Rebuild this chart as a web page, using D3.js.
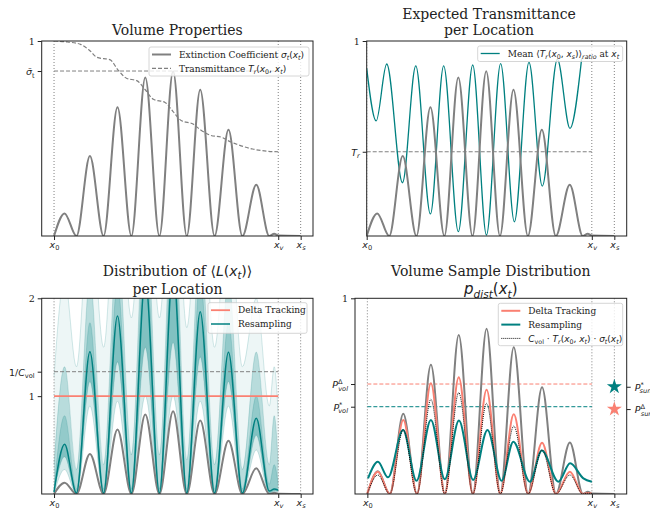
<!DOCTYPE html>
<html>
<head>
<meta charset="utf-8">
<script src="https://cdn.jsdelivr.net/npm/d3@7"></script>
<style>
  body { margin: 0; background: #fff; }
  svg text { font-family: "DejaVu Serif", serif; fill: #222; }
</style>
</head>
<body>
<svg id="fig" width="650" height="509"></svg>
<script>
const teal = '#008080', salmon = '#fa8072', grey = '#808080', ink = '#222';

// ray positions: x0 = 0, xv = 1, xs = 1.1
const xTickVals = [0, 1, 1.1];
const xTickLabels = [
    [['x', 'mi'], ['0', 'm_']],
    [['x', 'mi'], ['v', 'mi_']],
    [['x', 'mi'], ['s', 'mi_']]
];

// knots: troughs and peaks of the extinction coefficient
const knotX = [0, 0.047, 0.10, 0.16, 0.221, 0.283, 0.345, 0.407, 0.47, 0.531, 0.592, 0.652, 0.716, 0.778, 0.84, 0.902, 0.96, 0.982, 1.0];
const sigmaX = [...knotX, 1.1];
const sigma = [0, 0.116, 0, 0.41, 0, 0.66, 0, 0.813, 0, 0.845, 0, 0.75, 0, 0.545, 0, 0.263, 0, 0.012, 0.002, 0];

// transmittance T_r(x0, xt)
const transX = [0, 0.06, 0.118, 0.16, 0.192, 0.251, 0.283, 0.325, 0.369, 0.407, 0.443, 0.495, 0.531, 0.569, 0.62, 0.652, 0.694, 0.753, 0.778, 0.812, 0.886, 0.95, 1.0];
const trans = [1.0, 0.995, 0.983, 0.95, 0.916, 0.903, 0.855, 0.808, 0.797, 0.75, 0.701, 0.685, 0.638, 0.591, 0.574, 0.545, 0.518, 0.504, 0.488, 0.472, 0.446, 0.435, 0.432];

const sigmaBar = 0.846;
const trFinal = 0.432;
const invCvol = 1.25;

// mean transmittance ratio (top right)
const ratioX = [0, 0.042, 0.089, 0.159, 0.218, 0.283, 0.342, 0.407, 0.471, 0.532, 0.595, 0.656, 0.721, 0.78, 0.847, 0.903, 0.955];
const ratio = [0.86, 0.59, 0.882, 0.273, 0.872, 0.113, 0.872, 0.022, 0.877, 0.005, 0.884, 0.073, 0.89, 0.256, 0.906, 0.552, 0.911];

// distribution of <L(xt)> for resampling (bottom left), on knotX
const medianL = [0.02, 0.508, 0.01, 1.454, 0.01, 1.82, 0.01, 2.2, 0.01, 2.3, 0.01, 1.863, 0.01, 1.448, 0.01, 0.774, 0.03, 0.05, 0.04];
const lo2 = [0.0, 0.25, 0.0, 0.9, 0.0, 0.95, 0.0, 1.0, 0.0, 1.0, 0.0, 0.95, 0.0, 0.9, 0.0, 0.45, 0.0, 0.02, 0.02];
const lo1 = [0.01, 0.38, 0.0, 1.15, 0.0, 1.35, 0.0, 1.5, 0.0, 1.55, 0.0, 1.4, 0.0, 1.15, 0.0, 0.6, 0.01, 0.03, 0.03];
const hi1 = [0.05, 0.8, 0.05, 1.75, 0.05, 2.15, 0.05, 2.6, 0.05, 2.7, 0.05, 2.2, 0.05, 1.75, 0.05, 1.0, 0.1, 0.3, 0.1];
const hi2 = [0.3, 1.3, 0.25, 2.2, 0.3, 2.6, 0.4, 3.0, 0.4, 3.1, 0.35, 2.6, 0.3, 2.2, 0.25, 1.45, 0.3, 0.8, 0.3];
const hi3 = [1.2, 2.2, 1.3, 3.0, 1.5, 3.4, 1.8, 3.8, 1.8, 3.9, 1.7, 3.4, 1.5, 3.0, 1.3, 2.0, 0.9, 1.3, 0.8];

// volume sample pdfs (bottom right)
const pdfDelta = [0.003, 0.114, 0, 0.378, 0, 0.566, 0, 0.596, 0, 0.533, 0, 0.407, 0, 0.262, 0, 0.114, 0, 0.005, 0.002];
const pdfAnalytic = [0.003, 0.097, 0, 0.33, 0, 0.484, 0, 0.518, 0, 0.463, 0, 0.347, 0, 0.225, 0, 0.097, 0, 0.004, 0.002];
const resX = [0.003, 0.047, 0.092, 0.159, 0.219, 0.283, 0.345, 0.408, 0.471, 0.535, 0.598, 0.65, 0.724, 0.777, 0.851, 0.903, 0.962, 1.0];
const pdfRes = [0.08, 0.165, 0.085, 0.327, 0.068, 0.378, 0.075, 0.375, 0.072, 0.327, 0.068, 0.267, 0.063, 0.222, 0.063, 0.157, 0.08, 0.063];

const pVolDelta = 0.562, pVolRes = 0.446;
const pSunRes = 0.548, pSunDelta = 0.434;

const fig = d3.select('#fig');
let clipCount = 0;

// text with math-like sub/superscripts: kinds r = serif, m = sans, i = italic, _ sub, ^ sup, < back up
function rich(sel, parts, fs) {
    let off = 0;
    parts.forEach(([s, k]) => {
        const sub = k.includes('_'), sup = k.includes('^');
        const target = sub ? fs * 0.28 : sup ? -fs * 0.42 : 0;
        const ts = sel.append('tspan').text(s)
            .attr('dy', (target - off).toFixed(2))
            .attr('font-size', (sub || sup) ? fs * 0.7 : fs)
            .attr('font-family', k.includes('m') ? 'DejaVu Sans' : 'DejaVu Serif')
            .attr('font-style', k.includes('i') ? 'italic' : 'normal');
        if (k.includes('<')) ts.attr('dx', -fs * 0.45);
        off = target;
    });
}

function panel(o) {
    const p = Object.assign({}, o);
    p.g = fig.append('g');
    p.x = d3.scaleLinear().domain(o.xd).range([o.l, o.r]);
    p.y = d3.scaleLinear().domain(o.yd).range([o.b, o.t]);
    const id = 'clip' + (clipCount++);
    fig.append('clipPath').attr('id', id).append('rect')
        .attr('x', o.l).attr('y', o.t).attr('width', o.r - o.l).attr('height', o.b - o.t);
    p.plot = p.g.append('g').attr('clip-path', `url(#${id})`);
    p.line = (xs, ys) => d3.line()
        .x(d => p.x(d[0])).y(d => p.y(d[1]))
        .curve(d3.curveMonotoneX)(d3.zip(xs, ys));
    return p;
}

function vlines(p) {
    p.plot.selectAll('line.v').data(xTickVals).enter().append('line')
        .attr('x1', d => p.x(d)).attr('x2', d => p.x(d))
        .attr('y1', p.t).attr('y2', p.b)
        .attr('stroke', grey).attr('stroke-width', 1).attr('stroke-dasharray', '1,2');
}

function hline(p, v, color, dash) {
    p.plot.append('line')
        .attr('x1', p.x(xTickVals[0])).attr('x2', p.x(xTickVals[1]))
        .attr('y1', p.y(v)).attr('y2', p.y(v))
        .attr('stroke', color).attr('stroke-width', 1).attr('stroke-dasharray', dash || '4,2');
}

function axes(p, yTicks, yLabels) {
    p.g.append('rect')
        .attr('x', p.l).attr('y', p.t).attr('width', p.r - p.l).attr('height', p.b - p.t)
        .attr('fill', 'none').attr('stroke', ink).attr('stroke-width', 1);

    const gx = p.g.append('g').attr('transform', `translate(0,${p.b})`).attr('color', ink)
        .call(d3.axisBottom(p.x).tickValues(xTickVals).tickSize(4).tickFormat(''));
    gx.select('.domain').remove();
    gx.selectAll('.tick').each(function (d, i) {
        const t = d3.select(this).append('text').attr('y', 11.5).attr('text-anchor', 'middle');
        rich(t, xTickLabels[i], 9.5);
    });

    const gy = p.g.append('g').attr('transform', `translate(${p.l},0)`).attr('color', ink)
        .call(d3.axisLeft(p.y).tickValues(yTicks).tickSize(4).tickFormat(''));
    gy.select('.domain').remove();
    gy.selectAll('.tick').each(function (d, i) {
        const t = d3.select(this).append('text').attr('x', -7).attr('y', 3.5).attr('text-anchor', 'end');
        rich(t, yLabels[i], 9.5);
    });
}

function title(x, y, parts, fs) {
    const t = fig.append('text').attr('x', x).attr('y', y).attr('text-anchor', 'middle');
    rich(t, parts, fs || 14);
}

function legend(box, entries) {
    fig.append('rect')
        .attr('x', box[0]).attr('y', box[1]).attr('width', box[2]).attr('height', box[3])
        .attr('rx', 2).attr('fill', '#fff').attr('fill-opacity', 0.8)
        .attr('stroke', '#ccc').attr('stroke-width', 0.8);
    entries.forEach((e, i) => {
        const yy = box[1] + 7.5 + i * 13.8;
        fig.append('line')
            .attr('x1', box[0] + 3).attr('x2', box[0] + 22).attr('y1', yy).attr('y2', yy)
            .attr('stroke', e.color).attr('stroke-width', e.width)
            .attr('stroke-dasharray', e.dash || null);
        const t = fig.append('text').attr('x', box[0] + 30).attr('y', yy + 3.2);
        rich(t, e.label, 9);
    });
}

const sigmaPath = (p, w) => p.plot.append('path')
    .attr('d', p.line(sigmaX, sigma))
    .attr('fill', 'none').attr('stroke', grey).attr('stroke-width', w || 2);

// ---------- top left: volume properties ----------
const tl = panel({ l: 41.7, r: 313, t: 41, b: 236, xd: [-0.055, 1.155], yd: [0, 1] });
vlines(tl);
hline(tl, sigmaBar, grey, '4,2');
tl.plot.append('path').attr('d', tl.line(transX, trans))
    .attr('fill', 'none').attr('stroke', grey).attr('stroke-width', 1.2).attr('stroke-dasharray', '4,2');
sigmaPath(tl);
axes(tl, [1, sigmaBar], [[['1', 'r']], [['σ\u0304', 'mi'], ['t', 'm_']]]);
title(177.3, 35, [['Volume Properties', 'r']]);
legend([149, 47, 160, 29], [
    { color: grey, width: 2, label: [['Extinction Coefficient ', 'r'], ['σ', 'mi'], ['t', 'mi_'], ['(', 'm'], ['x', 'mi'], ['t', 'mi_'], [')', 'm']] },
    { color: grey, width: 1.2, dash: '4,2', label: [['Transmittance ', 'r'], ['T', 'mi'], ['r', 'mi_'], ['(', 'm'], ['x', 'mi'], ['0', 'm_'], [', ', 'm'], ['x', 'mi'], ['t', 'mi_'], [')', 'm']] }
]);

// ---------- top right: expected transmittance ----------
const tr = panel({ l: 366.7, r: 626.7, t: 41, b: 236, xd: [0, 1.155], yd: [0, 1] });
vlines(tr);
hline(tr, trFinal, grey, '4,2');
tr.plot.append('path').attr('d', tr.line(ratioX, ratio))
    .attr('fill', 'none').attr('stroke', teal).attr('stroke-width', 1.3);
sigmaPath(tr);
axes(tr, [1, trFinal], [[['1', 'r']], [['T', 'mi'], ['r', 'mi_']]]);
title(489, 18.5, [['Expected Transmittance', 'r']]);
title(489, 35, [['per Location', 'r']]);
legend([477.7, 46, 145, 15.5], [
    { color: teal, width: 1.3, label: [['Mean ', 'r'], ['⟨', 'm'], ['T', 'mi'], ['r', 'mi_'], ['(', 'm'], ['x', 'mi'], ['0', 'm_'], [', ', 'm'], ['x', 'mi'], ['s', 'mi_'], [')', 'm'], ['⟩', 'm'], ['ratio', 'mi_'], [' at ', 'r'], ['x', 'mi'], ['t', 'mi_']] }
]);

// ---------- bottom left: distribution of <L(xt)> ----------
const bl = panel({ l: 41.7, r: 313, t: 298.3, b: 494, xd: [-0.055, 1.155], yd: [0, 2] });
const band = (lo, hi) => d3.area()
    .x(d => bl.x(d[0])).y0(d => bl.y(d[1])).y1(d => bl.y(d[2]))
    .curve(d3.curveMonotoneX)(d3.zip(knotX, lo, hi));
[[lo2, hi3, 0.07], [lo2, hi2, 0.1], [lo1, hi2, 0.13], [lo1, hi1, 0.2], [lo1, medianL, 0.12]].forEach(([lo, hi, a]) => {
    bl.plot.append('path').attr('d', band(lo, hi)).attr('fill', teal).attr('fill-opacity', a);
});
[lo2, lo1, hi1, hi2, hi3].forEach(q => {
    bl.plot.append('path').attr('d', bl.line(knotX, q))
        .attr('fill', 'none').attr('stroke', teal).attr('stroke-opacity', 0.22).attr('stroke-width', 0.8);
});
vlines(bl);
hline(bl, invCvol, grey, '4,2');
sigmaPath(bl);
bl.plot.append('line')
    .attr('x1', bl.x(xTickVals[0])).attr('x2', bl.x(xTickVals[1]))
    .attr('y1', bl.y(1)).attr('y2', bl.y(1))
    .attr('stroke', salmon).attr('stroke-width', 1.8);
bl.plot.append('path').attr('d', bl.line(knotX, medianL))
    .attr('fill', 'none').attr('stroke', teal).attr('stroke-width', 1.5);
axes(bl, [2, invCvol, 1], [[['2', 'r']], [['1/', 'm'], ['C', 'mi'], ['vol', 'm_']], [['1', 'r']]]);
title(177.5, 275.5, [['Distribution of ', 'r'], ['⟨', 'm'], ['L', 'mi'], ['(', 'm'], ['x', 'mi'], ['t', 'mi_'], [')', 'm'], ['⟩', 'm']]);
title(177.5, 293.5, [['per Location', 'r']]);
legend([208, 302.7, 99, 30.6], [
    { color: salmon, width: 1.8, label: [['Delta Tracking', 'r']] },
    { color: teal, width: 1.5, label: [['Resampling', 'r']] }
]);

// ---------- bottom right: volume sample distribution ----------
const br = panel({ l: 355, r: 626.7, t: 298.3, b: 494, xd: [-0.055, 1.155], yd: [0, 1] });
vlines(br);
hline(br, pVolDelta, salmon, '4,2');
hline(br, pVolRes, teal, '4,2');
sigmaPath(br);
br.plot.append('path').attr('d', br.line(knotX, pdfDelta))
    .attr('fill', 'none').attr('stroke', salmon).attr('stroke-width', 2);
br.plot.append('path').attr('d', br.line(resX, pdfRes))
    .attr('fill', 'none').attr('stroke', teal).attr('stroke-width', 2);
br.plot.append('path').attr('d', br.line(knotX, pdfAnalytic))
    .attr('fill', 'none').attr('stroke', '#111').attr('stroke-width', 1).attr('stroke-dasharray', '1,1');
br.plot.selectAll('path.star').data([[pSunRes, teal], [pSunDelta, salmon]]).enter().append('path')
    .attr('d', d3.symbol(d3.symbolStar, 70))
    .attr('transform', d => `translate(${br.x(xTickVals[2])},${br.y(d[0])})`)
    .attr('fill', d => d[1]);
axes(br, [1, pVolDelta, pVolRes], [
    [['1', 'r']],
    [['P', 'mi'], ['Δ', 'm^'], ['vol', 'mi<_']],
    [['P', 'mi'], ['*', 'm^'], ['vol', 'mi<_']]
]);
const gr = br.g.append('g').attr('transform', `translate(${br.r},0)`).attr('color', ink)
    .call(d3.axisRight(br.y).tickValues([pSunRes, pSunDelta]).tickSize(4).tickFormat(''));
gr.select('.domain').remove();
const rightLabels = [
    [['P', 'mi'], ['*', 'm^'], ['sun', 'mi<_']],
    [['P', 'mi'], ['Δ', 'm^'], ['sun', 'mi<_']]
];
gr.selectAll('.tick').each(function (d, i) {
    const t = d3.select(this).append('text').attr('x', 8).attr('y', 3.5).attr('text-anchor', 'start');
    rich(t, rightLabels[i], 9.5);
});
title(490.8, 275.5, [['Volume Sample Distribution', 'r']]);
title(490.8, 294, [['p', 'mi'], ['dist', 'mi_'], ['(', 'm'], ['x', 'mi'], ['t', 'mi_'], [')', 'm']], 15);
legend([498.3, 303.3, 124.4, 42.4], [
    { color: salmon, width: 2, label: [['Delta Tracking', 'r']] },
    { color: teal, width: 2, label: [['Resampling', 'r']] },
    { color: '#111', width: 1, dash: '1,1', label: [['C', 'mi'], ['vol', 'm_'], [' · ', 'm'], ['T', 'mi'], ['r', 'mi_'], ['(', 'm'], ['x', 'mi'], ['0', 'm_'], [', ', 'm'], ['x', 'mi'], ['t', 'mi_'], [') · ', 'm'], ['σ', 'mi'], ['t', 'mi_'], ['(', 'm'], ['x', 'mi'], ['t', 'mi_'], [')', 'm']] }
]);
</script>
</body>
</html>
